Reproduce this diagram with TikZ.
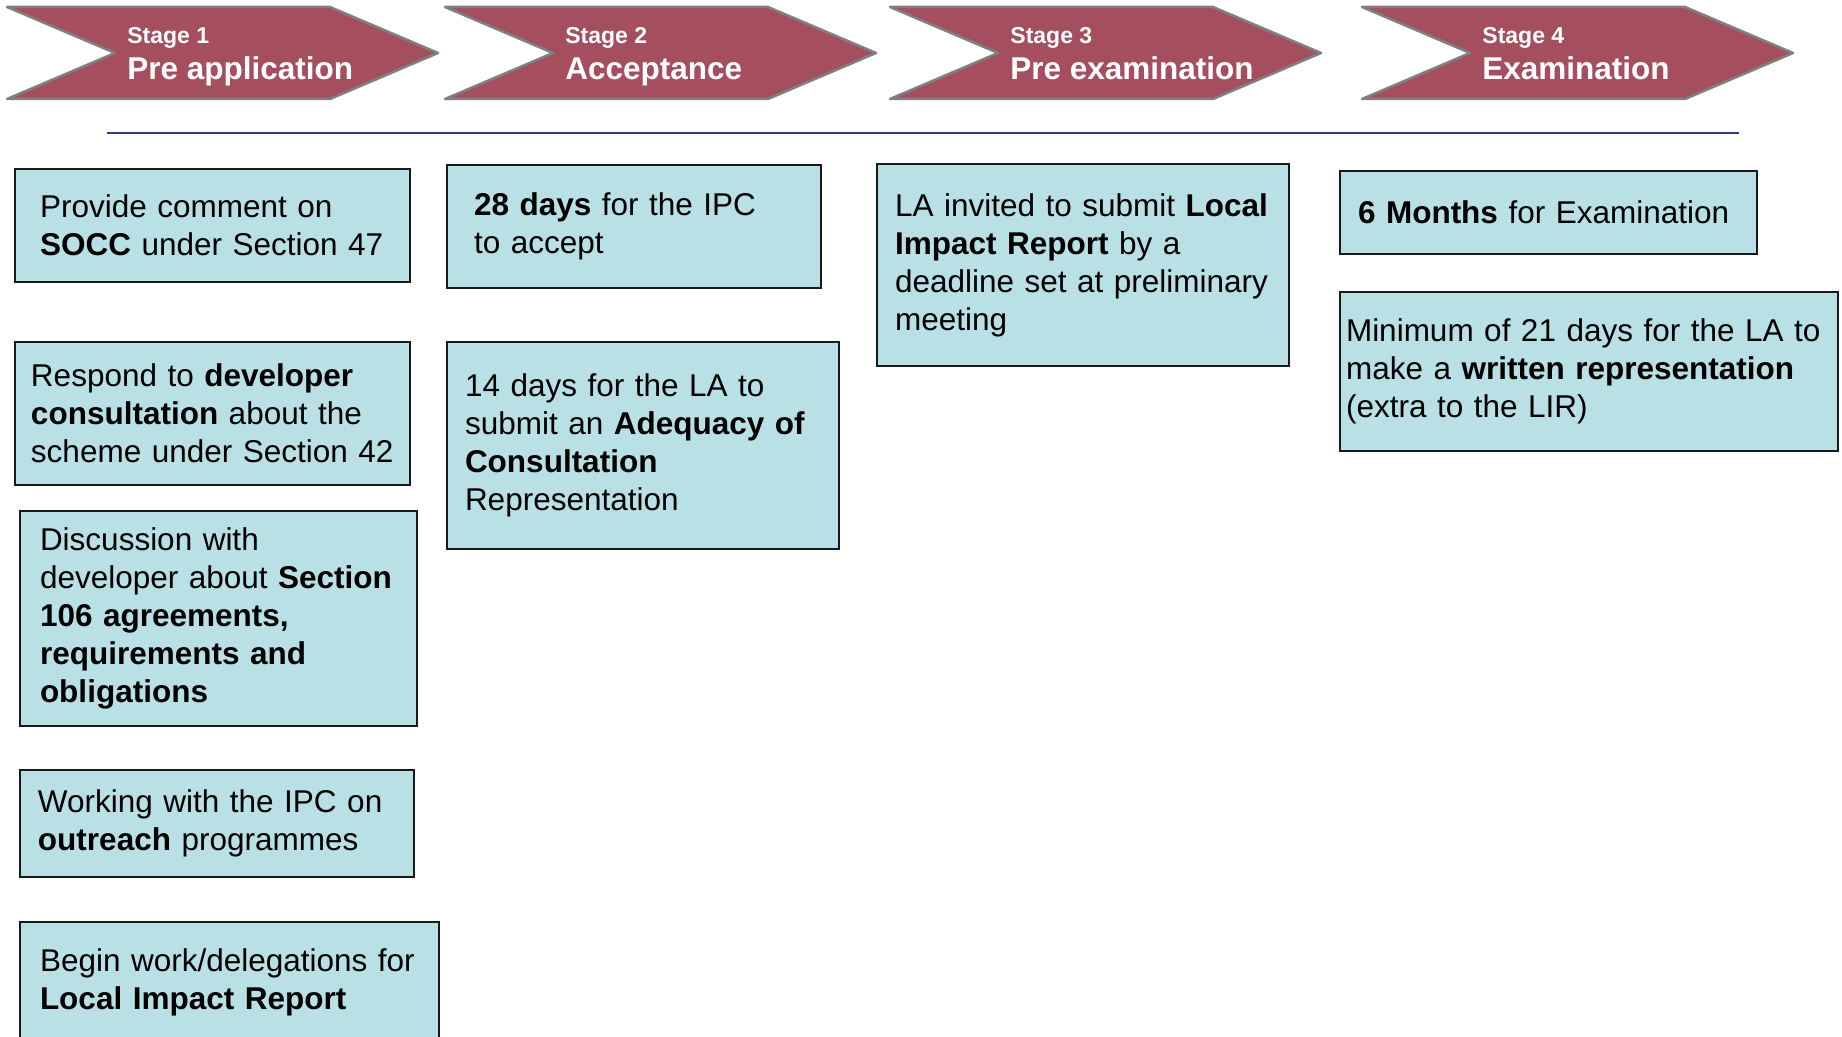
\documentclass[tikz,border=0pt]{standalone}
\usepackage{fontspec}
\setmainfont{Liberation Sans}
\usepackage{tikz}

\definecolor{stagered}{RGB}{165,79,94}
\definecolor{taskblue}{RGB}{185,224,228}
\definecolor{rulenavy}{RGB}{46,59,140}

\begin{document}
\begin{tikzpicture}
    [
        x=0.5pt, y=-0.5pt,
        stage/.style={fill=stagered, draw=gray, line width=1.25pt, line join=round},
        stagenum/.style={anchor=base west, text=white, inner sep=0pt,
            font=\bfseries\fontsize{11.5pt}{13pt}\selectfont},
        stagename/.style={anchor=base west, text=white, inner sep=0pt,
            font=\bfseries\fontsize{15.75pt}{19pt}\selectfont},
        task/.style={draw=black!90, fill=taskblue, line width=1pt, anchor=north west,
            outer sep=0pt, inner ysep=0pt, align=left,
            font=\fontsize{15.75pt}{19pt}\selectfont}
    ]
    \useasboundingbox (0,0) rectangle (1842,1037);
    \clip (0,0) rectangle (1842,1037);

    \foreach \x/\n/\t in {7/1/Pre application, 445/2/Acceptance, 890/3/Pre examination, 1362/4/Examination} {
        \draw[stage] (\x,7) -- ({\x+323},7) -- ({\x+431},53) -- ({\x+323},99)
            -- (\x,99) -- ({\x+108},53) -- cycle;
        \node[stagenum] (num\n) at ({\x+120},44) {Stage \n};
        \node[stagename] (name\n) at ({\x+120},80) {\t};
    }

    \draw[rulenavy, line width=1.2pt] (107,133) -- (1739,133);

    \node[task, text width=172.5pt, inner xsep=12.5pt, minimum height=56.5pt] (socc) at (15,169) {
        Provide comment on\\
        \textbf{SOCC} under Section 47
    };
    \node[task, text width=181.5pt, inner xsep=8pt, minimum height=71.5pt] (devcons) at (15,342) {
        Respond to \textbf{developer}\\
        \textbf{consultation} about the\\
        scheme under Section 42
    };
    \node[task, text width=178.5pt, inner xsep=10pt, minimum height=107.5pt] (sec106) at (20,511) {
        Discussion with\\
        developer about \textbf{Section}\\
        \textbf{106 agreements,}\\
        \textbf{requirements and}\\
        \textbf{obligations}
    };
    \node[task, text width=179pt, inner xsep=9pt, minimum height=53.5pt] (outreach) at (20,770) {
        Working with the IPC on\\
        \textbf{outreach} programmes
    };
    \node[task, text width=189.5pt, inner xsep=10pt, minimum height=60pt] (lirwork) at (20,922) {
        Begin work/delegations for\\
        \textbf{Local Impact Report}
    };

    \node[task, text width=160pt, inner xsep=13.5pt, minimum height=61.5pt] (accept) at (447,165) {
        \textbf{28 days} for the IPC\\
        to accept
    };
    \node[task, text width=178pt, inner xsep=9pt, minimum height=103.5pt] (adequacy) at (447,342) {
        14 days for the LA to\\
        submit an \textbf{Adequacy of}\\
        \textbf{Consultation}\\
        Representation
    };

    \node[task, text width=188pt, inner xsep=9pt, minimum height=101pt] (lirinvite) at (877,164) {
        LA invited to submit \textbf{Local}\\
        \textbf{Impact Report} by a\\
        deadline set at preliminary\\
        meeting
    };

    \node[task, text width=190.5pt, inner xsep=9pt, minimum height=41.5pt] (exammonths) at (1340,171) {
        \textbf{6 Months} for Examination
    };
    \node[task, text width=243pt, inner xsep=3pt, minimum height=79.5pt] (writtenrep) at (1340,292) {
        Minimum of 21 days for the LA to\\
        make a \textbf{written representation}\\
        (extra to the LIR)
    };
\end{tikzpicture}
\end{document}
